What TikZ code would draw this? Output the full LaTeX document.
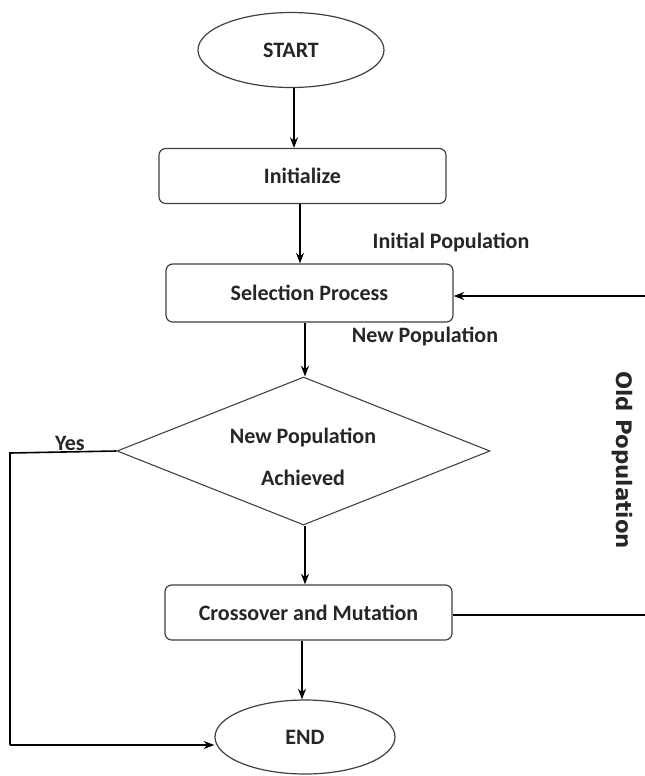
\documentclass[tikz,border=0pt]{standalone}
\usepackage{fontspec}
\setmainfont{Carlito}
\newfontfamily\oldfont{DejaVu Sans}
\usetikzlibrary{shapes.geometric,arrows.meta}
\begin{document}
\begin{tikzpicture}[x=0.75pt,y=-0.75pt,
  txt/.style={font=\bfseries\fontsize{16.5}{19}\selectfont, text=black!85},
  term/.style={ellipse, draw=black!75, line width=0.9pt, fill=white, txt},
  proc/.style={rectangle, rounded corners=5pt, draw=black!75, line width=0.9pt, fill=white, txt},
  lbl/.style={txt},
  conn/.style={draw=black, line width=1pt, -{Stealth[length=8pt,width=6pt]}},
  line/.style={draw=black, line width=1.2pt}
]
\useasboundingbox (0,0) rectangle (644,776);
\node[term, minimum width=186*0.75pt, minimum height=75*0.75pt] (start) at (291,50) {START};
\node[proc, minimum width=287*0.75pt, minimum height=55*0.75pt] (init) at (302.5,176) {Initialize};
\node[proc, minimum width=287*0.75pt, minimum height=58*0.75pt] (sel) at (309.5,293) {Selection Process};
\node[draw=black!75, line width=0.8pt, fill=white] (dec) at (303.5,451) [shape=diamond, minimum width=373*0.75pt, minimum height=148*0.75pt, inner sep=0pt, aspect=2.5] {};
\node[txt] (dect1) at (303,437) {New Population};
\node[txt] (dect2) at (303,478) {Achieved};
\node[proc, minimum width=287*0.75pt, minimum height=55*0.75pt] (cross) at (308.5,612.5) {Crossover and Mutation};
\node[term, minimum width=180*0.75pt, minimum height=74*0.75pt] (end) at (305,737) {END};

\node[lbl] (lip) at (451,242) {Initial Population};
\node[lbl] (lnp) at (425,336) {New Population};
\node[lbl] (lyes) at (70,443) {Yes};
\node[font=\oldfont\bfseries\fontsize{16}{18}\selectfont, text=black!85, rotate=-90] (lold) at (622,460) {Old Population};

\coordinate (yc1) at (10,453);
\coordinate (yc2) at (10,745);
\coordinate (rc1) at (660,615);
\coordinate (rc2) at (660,296);

\draw[conn] (start.south -| 294,0) -- (init.north -| 294,0);
\draw[conn] (init.south -| 300,0) -- (sel.north -| 300,0);
\draw[conn] (sel.south -| 305,0) -- (dec.north -| 305,0);
\draw[conn] (dec.south -| 305,0) -- (cross.north -| 305,0);
\draw[conn] (cross.south -| 302,0) -- (end.north -| 302,0);
\draw[line] (dec.west) -- (yc1) -- (yc2);
\draw[conn, line width=1.2pt] (yc2) -- (end.west |- yc2);
\draw[line] (cross.east |- rc1) -- (rc1) -- (rc2);
\draw[conn, line width=1.2pt] (rc2) -- (sel.east |- rc2);
\end{tikzpicture}
\end{document}
